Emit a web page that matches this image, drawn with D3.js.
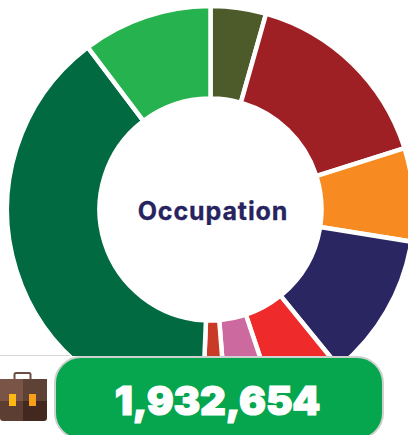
<!DOCTYPE html>
<html>
<head>
<meta charset="utf-8">
<script src="https://cdn.jsdelivr.net/npm/d3@7"></script>
<style>
html,body{margin:0;padding:0;background:#fff;overflow:hidden}
svg{display:block}
</style>
</head>
<body>
<svg id="chart" width="408" height="435"></svg>
<script>
const categories = ["Category 1","Category 2","Category 3","Category 4","Category 5","Category 6","Category 7","Category 8","Category 9"];
const shares = [4.4,15.7,7.4,11.6,5.7,3.9,1.9,39.0,10.3];
const colours = ["#4d5a2a","#9e2024","#f78b21","#2a2661","#ee2a2b","#cc6a9f","#c93a27","#016a41","#26b34f"];
const title = "Occupation";
const total = 1932654;

const svg = d3.select("#chart");
const g = svg.append("g").attr("transform","translate(210.5,209.5)");
const pie = d3.pie().sort(null).value(d=>d);
const arc = d3.arc().innerRadius(111).outerRadius(203.5).cornerRadius(1.5);
g.selectAll("path").data(pie(shares)).join("path")
  .attr("d",arc)
  .attr("fill",(d,i)=>colours[i])
  .attr("stroke","#fff").attr("stroke-width",4.5);

g.append("text").text(title)
  .attr("x",2.5).attr("y",10.5)
  .attr("text-anchor","middle")
  .attr("font-family","Inter, sans-serif").attr("font-weight",700)
  .attr("font-size",25).attr("letter-spacing",0.9)
  .attr("fill","#27235f").attr("stroke","#27235f").attr("stroke-width",0.3);

// lower band
svg.append("rect").attr("x",0).attr("y",356).attr("width",408).attr("height",79).attr("fill","#fff");
svg.append("line").attr("x1",0).attr("x2",70).attr("y1",355.5).attr("y2",355.5).attr("stroke","#d5d5d5").attr("stroke-width",1);
svg.append("rect").attr("x",55).attr("y",357).attr("width",328).attr("height",82).attr("rx",26)
  .attr("fill","#05a64e").attr("stroke","#d0d0d0").attr("stroke-width",2);
svg.append("text").text(d3.format(",")(total))
  .attr("x",217.5).attr("y",415)
  .attr("text-anchor","middle")
  .attr("font-family","Inter, sans-serif").attr("font-weight",900)
  .attr("font-size",40).attr("letter-spacing",-0.2)
  .attr("fill","#fff").attr("stroke","#fff").attr("stroke-width",1.2);

// briefcase icon
const icon = svg.append("g");
icon.append("rect").attr("x",14.5).attr("y",373).attr("width",16).attr("height",10).attr("rx",1.5)
  .attr("fill","none").attr("stroke","#6d4c41").attr("stroke-width",2);
icon.append("rect").attr("x",0).attr("y",379).attr("width",47).attr("height",22).attr("fill","#7a5547");
icon.append("rect").attr("x",23).attr("y",379).attr("width",24).attr("height",22).attr("fill","#5f4236");
icon.append("path").attr("d","M0,401H23V421H3Q0,421 0,418Z").attr("fill","#5c3e33");
icon.append("path").attr("d","M23,401H47V418Q47,421 44,421H23Z").attr("fill","#432820");
icon.append("rect").attr("x",9).attr("y",394).attr("width",7).attr("height",12).attr("fill","#fdb813");
icon.append("rect").attr("x",29).attr("y",394).attr("width",7).attr("height",12).attr("fill","#f9a01b");
</script>
</body>
</html>
